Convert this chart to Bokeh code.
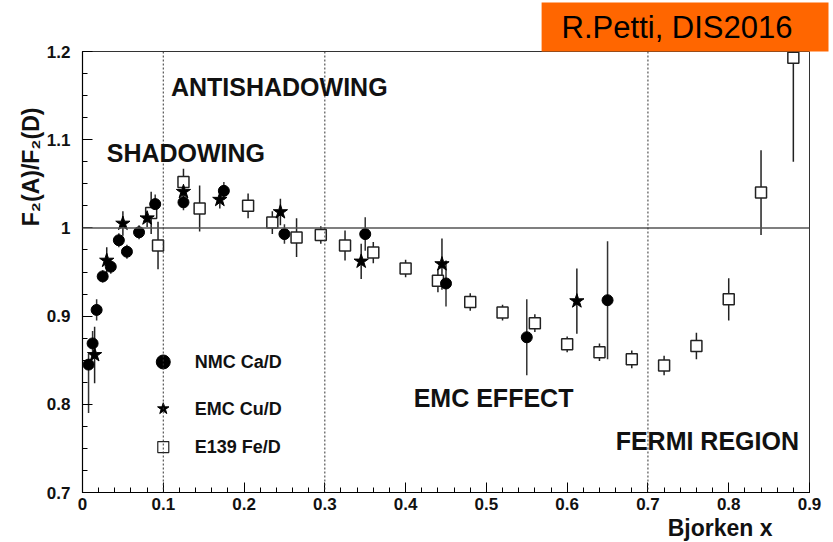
from bokeh.plotting import figure
from bokeh.models import Span, Label, Range1d, FixedTicker, CustomJSTickFormatter, Title
from bokeh.embed import file_html
from bokeh.resources import INLINE

# ---------------- data ----------------
nmc_x = [0.0075, 0.0125, 0.0175, 0.025, 0.035, 0.045, 0.055, 0.07, 0.09, 0.125, 0.175, 0.25, 0.35, 0.45, 0.55, 0.65]
nmc_y = [0.845, 0.869, 0.907, 0.945, 0.956, 0.986, 0.973, 0.995, 1.027, 1.029, 1.042, 0.993, 0.993, 0.937, 0.876, 0.918]
nmc_err_lo = [0.055, 0.014, 0.012, 0.007, 0.008, 0.008, 0.008, 0.008, 0.011, 0.009, 0.010, 0.011, 0.019, 0.026, 0.043, 0.067]
nmc_err_hi = [0.012, 0.014, 0.012, 0.007, 0.008, 0.008, 0.008, 0.008, 0.011, 0.009, 0.010, 0.011, 0.019, 0.026, 0.043, 0.067]

emc_x = [0.015, 0.03, 0.05, 0.08, 0.125, 0.17, 0.245, 0.345, 0.445, 0.612]
emc_y = [0.856, 0.963, 1.005, 1.011, 1.041, 1.032, 1.018, 0.962, 0.959, 0.917]
emc_err = [0.032, 0.015, 0.014, 0.010, 0.015, 0.010, 0.015, 0.020, 0.029, 0.037]

e139_x = [0.085, 0.0935, 0.125, 0.145, 0.205, 0.235, 0.265, 0.295, 0.325, 0.36, 0.40, 0.44,
          0.48, 0.52, 0.56, 0.60, 0.64, 0.68, 0.72, 0.76, 0.80, 0.84, 0.88]
e139_y = [1.017, 0.980, 1.052, 1.022, 1.025, 1.006, 0.989, 0.992, 0.980, 0.972, 0.954, 0.940,
          0.916, 0.904, 0.892, 0.868, 0.859, 0.851, 0.844, 0.866, 0.919, 1.040, 1.193]
e139_err = [0.024, 0.027, 0.015, 0.026, 0.014, 0.013, 0.022, 0.010, 0.017, 0.012, 0.010, 0.013,
            0.010, 0.009, 0.010, 0.009, 0.010, 0.010, 0.011, 0.015, 0.024, 0.048, 0.118]

x_ticks = [0, 0.1, 0.2, 0.3, 0.4, 0.5, 0.6, 0.7, 0.8, 0.9]
x_tick_labels = ["0", "0.1", "0.2", "0.3", "0.4", "0.5", "0.6", "0.7", "0.8", "0.9"]
y_ticks = [0.7, 0.8, 0.9, 1.0, 1.1, 1.2]
y_tick_labels = ["0.7", "0.8", "0.9", "1", "1.1", "1.2"]
region_bounds = [0.1, 0.3, 0.7]

legend_labels = ["NMC Ca/D", "EMC Cu/D", "E139 Fe/D"]
region_texts = ["ANTISHADOWING", "SHADOWING", "EMC EFFECT", "FERMI REGION"]

FONT = "Liberation Sans"

p = figure(width=833, height=542, output_backend="svg", toolbar_location=None,
           x_range=Range1d(0, 0.9), y_range=Range1d(0.7, 1.2),
           min_border_left=82, min_border_right=24, min_border_top=51, min_border_bottom=50)
p.background_fill_color = "white"
p.border_fill_color = "white"
p.outline_line_color = "#333333"
p.outline_line_width = 1
p.grid.visible = False

def fmt(ticks, labels):
    mapping = {f"{t:.1f}": l for t, l in zip(ticks, labels)}
    return CustomJSTickFormatter(args=dict(m=mapping), code="return m[tick.toFixed(1)] || '';")

for ax in (p.xaxis[0], p.yaxis[0]):
    ax.axis_line_color = "black"
    ax.axis_line_width = 1.2
    ax.major_tick_line_color = "black"
    ax.minor_tick_line_color = "black"
    ax.major_tick_in = 10
    ax.major_tick_out = 0
    ax.minor_tick_in = 5
    ax.minor_tick_out = 0
    ax.major_label_text_font = FONT
    ax.major_label_text_font_style = "bold"
    ax.major_label_text_font_size = "17px"
    ax.major_label_text_color = "#111111"

p.xaxis[0].ticker = FixedTicker(ticks=x_ticks, minor_ticks=[i * 0.02 for i in range(46)])
p.xaxis[0].formatter = fmt(x_ticks, x_tick_labels)
p.xaxis[0].major_label_standoff = 5
p.yaxis[0].ticker = FixedTicker(ticks=y_ticks, minor_ticks=[0.7 + i * 0.025 for i in range(21)])
p.yaxis[0].formatter = fmt(y_ticks, y_tick_labels)
p.yaxis[0].major_label_standoff = 12

# reference lines
p.add_layout(Span(location=1.0, dimension="width", line_color="#555555", line_width=1.5))
for xb in region_bounds:
    p.add_layout(Span(location=xb, dimension="height", line_color="#333333",
                      line_width=1, line_dash="2 2"))

# error bars
def bars(x, y, lo, hi, color):
    p.segment(x0=x, x1=x, y0=[a - b for a, b in zip(y, lo)], y1=[a + b for a, b in zip(y, hi)],
              line_color=color, line_width=1.5)

bars(e139_x, e139_y, e139_err, e139_err, "#222222")
bars(nmc_x, nmc_y, nmc_err_lo, nmc_err_hi, "#333333")
bars(emc_x, emc_y, emc_err, emc_err, "#222222")

p.scatter(e139_x, e139_y, marker="square", size=11, fill_color="white",
          line_color="#222222", line_width=1.5)
p.scatter(nmc_x, nmc_y, marker="circle", size=11, fill_color="black", line_color="black")
p.scatter(emc_x, emc_y, marker="star", size=15, fill_color="black", line_color="black")

# legend (manual, as in the original)
leg_marker_x = 0.1
leg_y = [0.848, 0.795, 0.7515]
p.scatter([leg_marker_x], [leg_y[0]], marker="circle", size=14, fill_color="black", line_color="black")
p.scatter([leg_marker_x], [leg_y[1]], marker="star", size=12, fill_color="black", line_color="black")
p.scatter([leg_marker_x], [leg_y[2]], marker="square", size=11, fill_color="white",
          line_color="#222222", line_width=1.2)
for txt, ty in zip(legend_labels, leg_y):
    p.add_layout(Label(x=0.139, y=ty, text=txt, text_font=FONT, text_font_style="bold",
                       text_font_size="18px", text_color="#111111", text_baseline="middle"))

# region annotations
region_pos = [(0.1095, 1.160), (0.030, 1.085), (0.41, 0.807), (0.66, 0.758)]
for txt, (tx, ty) in zip(region_texts, region_pos):
    p.add_layout(Label(x=tx, y=ty, text=txt, text_font=FONT, text_font_style="bold",
                       text_font_size="25px", text_color="#111111", text_baseline="middle"))

# axis titles (as side titles so they can sit off-centre like the original)
p.add_layout(Title(text="Bjorken x", align="right", offset=37, standoff=0,
                   text_font=FONT, text_font_style="bold", text_font_size="23px",
                   text_color="#111111"), "below")
p.add_layout(Title(text="F\u2082(A)/F\u2082(D)", align="right", offset=56, standoff=0,
                   text_font=FONT, text_font_style="bold", text_font_size="23px",
                   text_color="#111111"), "left")

# credit box
p.add_layout(Title(text="R.Petti, DIS2016", align="right", offset=-19, standoff=0,
                   vertical_align="bottom",
                   text_font=FONT, text_font_style="normal", text_font_size="31px",
                   text_color="black", background_fill_color="#ff6600",
                   padding=dict(left=20, right=36, top=7, bottom=7)), "above")

open("out.html", "w").write(file_html(p, INLINE))
